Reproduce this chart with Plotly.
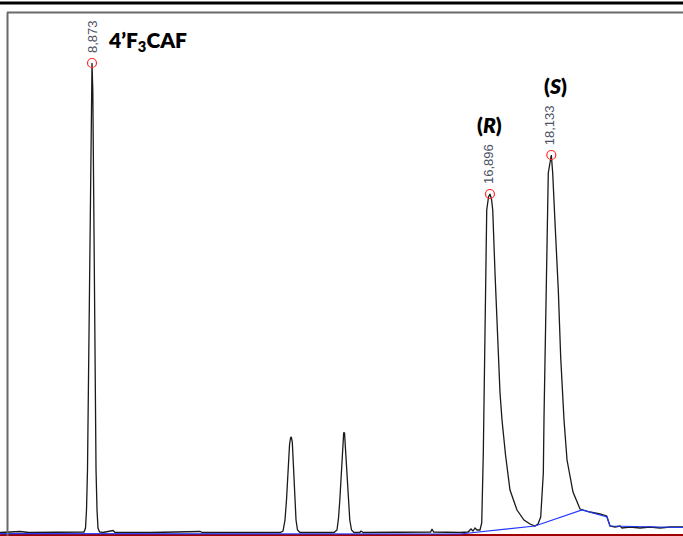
import plotly.graph_objects as go

# Detector trace (retention time in min, signal in mAU)
time_min = [
    7.018, 7.420, 7.600, 8.631, 8.712, 8.742, 8.762, 8.782, 8.798, 8.812, 8.829, 8.843,
    8.857, 8.873, 8.889, 8.899, 8.911, 8.923, 8.937, 8.954, 8.974, 8.994, 9.024, 9.095,
    9.296, 9.340, 10.050, 11.050, 11.100, 12.663, 12.724, 12.764, 12.794, 12.814, 12.835,
    12.855, 12.875, 12.891, 12.911, 12.925, 12.941, 12.962, 12.986, 13.016, 13.066,
    13.300, 13.752, 13.812, 13.843, 13.869, 13.889, 13.913, 13.933, 13.947, 13.964,
    13.978, 13.998, 14.020, 14.044, 14.070, 14.105, 14.155, 14.270, 14.296, 14.340,
    15.000, 15.700, 15.728, 15.760, 16.292, 16.454, 16.514, 16.554, 16.595, 16.635,
    16.695, 16.730, 16.762, 16.782, 16.810, 16.831, 16.867, 16.896, 16.927, 16.952,
    16.998, 17.052, 17.099, 17.139, 17.210, 17.300, 17.441, 17.582, 17.703, 17.804,
    17.865, 17.919, 17.972, 17.986, 18.020, 18.040, 18.072, 18.133, 18.161, 18.208,
    18.274, 18.322, 18.389, 18.450, 18.570, 18.712, 18.772, 18.913, 19.115, 19.250,
    19.276, 19.316, 19.417, 19.518, 19.558, 19.720, 19.921, 20.123, 20.325, 20.526,
    20.788,
]
signal_mau = [
    0.5, 1.5, 0.5, 0.5, 1, 5, 23, 63, 133, 203, 283, 373,
    443, 470, 443, 373, 283, 203, 133, 63, 23, 5, 1, 0.5,
    2.5, 0.5, 0.5, 1.5, 0.5, 0.5, 2, 13, 33, 53, 73,
    88, 95, 96, 91, 78, 58, 33, 13, 3, 0.5,
    0.5, 0.5, 3, 15, 33, 53, 73, 91, 100, 100,
    88, 68, 48, 28, 13, 3, 0.5, 0.5, 2, 0.5,
    0.5, 1, 4, 1, 0.5, 1, 4, 2, 5, 3,
    3, 10, 80, 166, 260, 323, 336, 339, 334, 323,
    260, 186, 140, 113, 78, 43, 23, 13, 9, 7,
    9, 16, 60, 116, 213, 310, 360, 378, 360, 310,
    243, 176, 113, 73, 41, 24, 23, 21, 19, 17,
    13, 7, 6, 7, 5, 6, 5, 6, 5, 6,
    6,
]

# Integration baseline
base_time = [7.018, 16.292, 17.804, 18.752, 19.256, 19.316, 20.788]
base_mau = [-0.6, -1.0, 7, 23, 16, 7, 5.5]

# Labelled peaks
peak_rt = [8.873, 16.896, 18.133]
peak_height = [470, 339, 378]
peak_labels = ["8,873", "16,896", "18,133"]

x_range = [7.018, 20.788]
y_range = [-3, 533]

fig = go.Figure()

# zero line of the detector
fig.add_trace(go.Scatter(
    x=x_range, y=[-2, -2], mode="lines",
    line=dict(color="#a00000", width=2), hoverinfo="skip", showlegend=False,
))
fig.add_trace(go.Scatter(
    x=time_min, y=signal_mau, mode="lines",
    line=dict(color="#1a1a1a", width=1.3), showlegend=False,
))
fig.add_trace(go.Scatter(
    x=base_time, y=base_mau, mode="lines",
    line=dict(color="#2038ff", width=1.2), showlegend=False,
))
fig.add_trace(go.Scatter(
    x=peak_rt, y=peak_height, mode="markers",
    marker=dict(symbol="circle-open", size=9, color="#ff2a2a", line=dict(width=1.2)),
    showlegend=False,
))

# retention-time labels, rotated above each apex
label_offsets = [(0, 26), (-2, 30), (-2, 30)]
for rt, h, lab, (dx, dy) in zip(peak_rt, peak_height, peak_labels, label_offsets):
    fig.add_annotation(
        x=rt, y=h, text=lab, textangle=-90, showarrow=False,
        xanchor="center", yanchor="middle", xshift=dx, yshift=dy,
        font=dict(family="Liberation Sans, Arial", size=13, color="#4a5266"),
    )

name_font = dict(family="Lato, Calibri, sans-serif", size=21, color="#000000",
                 weight=800)
fig.add_annotation(
    x=9.160, y=492, text="4’F<sub>3</sub>CAF", showarrow=False,
    xanchor="left", yanchor="middle", font=name_font,
)
fig.add_annotation(
    x=16.878, y=409, text="(<i>R</i>)", showarrow=False,
    xanchor="center", yanchor="middle", font=name_font,
)
fig.add_annotation(
    x=18.215, y=448, text="(<i>S</i>)", showarrow=False,
    xanchor="center", yanchor="middle", font=name_font,
)

W, H = 683, 536
fig.update_layout(
    width=W, height=H,
    margin=dict(l=0, r=0, t=0, b=0),
    paper_bgcolor="white", plot_bgcolor="white",
    xaxis=dict(range=x_range, visible=False, fixedrange=True),
    yaxis=dict(range=y_range, visible=False, fixedrange=True),
    shapes=[
        dict(type="line", xref="paper", yref="paper", x0=0, x1=1,
             y0=1 - 3 / H, y1=1 - 3 / H, line=dict(color="black", width=3)),
        dict(type="line", xref="paper", yref="paper", x0=7 / W, x1=1,
             y0=1 - 12.5 / H, y1=1 - 12.5 / H, line=dict(color="#6a6a6a", width=2)),
        dict(type="line", xref="paper", yref="paper", x0=7.5 / W, x1=7.5 / W,
             y0=0, y1=1 - 12.5 / H, line=dict(color="#6a6a6a", width=2)),
    ],
)

fig.write_html("out.html")
